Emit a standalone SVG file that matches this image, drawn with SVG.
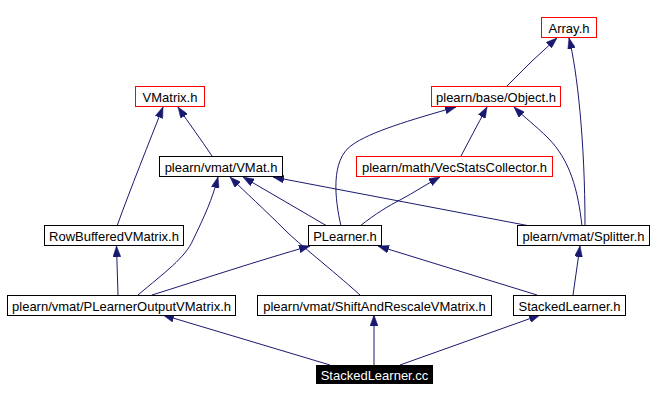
<svg xmlns="http://www.w3.org/2000/svg" width="660" height="401" viewBox="0 0 660 401">
<defs>
<marker id="ah" markerUnits="userSpaceOnUse" markerWidth="11" markerHeight="8" refX="11" refY="4" orient="auto">
<path d="M0,0 L11,4 L0,8 z" fill="#191970" stroke="#191970" stroke-width="0.5"/>
</marker>
<style>
.n rect{fill:#fff;stroke:#000;stroke-width:1}
.n.r rect{stroke:#ff0000}
.n text{font-family:"Liberation Sans",Arial,sans-serif;font-size:13px;fill:#000;text-anchor:middle}
.n.f rect{fill:#000;stroke:#000}
.n.f text{fill:#fff}
#edges path{fill:none;stroke:#191970;stroke-width:1;marker-end:url(#ah)}
</style>
</defs>
<rect width="660" height="401" fill="#fff"/>
<g id="edges">
<path d="M507,86 Q530,62 557,38"/>
<path d="M585,226 C585,140 577,70 569,38"/>
<path d="M212,156 C200,138 190,125 178,107"/>
<path d="M117,226 C130,190 150,140 163,107"/>
<path d="M341,226 C335,200 330,160 352,145 C370,132 410,120 456,107"/>
<path d="M461,156 Q472,135 487,107"/>
<path d="M582,226 C578,190 570,160 548,138 C535,125 525,118 514,107"/>
<path d="M360,226 C375,214 390,205 400,200 C415,192 425,185 440,177"/>
<path d="M327,226 L243,177"/>
<path d="M530,226 L273,177"/>
<path d="M138,295 C165,272 185,258 193,240 C205,215 212,200 218,177"/>
<path d="M360,295 C330,268 300,245 285,230 C265,210 245,192 230,177"/>
<path d="M118,295 L116.5,246"/>
<path d="M152,295 C200,280 260,260 310,246"/>
<path d="M537,295 L378,246"/>
<path d="M573,295 L580,246"/>
<path d="M330,365 L163,315"/>
<path d="M374,365 L374,315"/>
<path d="M400,365 L540,315"/>
</g>
<g id="array" class="n r"><rect x="541.5" y="17.5" width="55" height="20"/><text x="569" y="33">Array.h</text></g>
<g id="vmatrix" class="n r"><rect x="135.5" y="86.5" width="69" height="20"/><text x="170" y="102">VMatrix.h</text></g>
<g id="object" class="n r"><rect x="431.5" y="86.5" width="129" height="20"/><text x="496" y="102">plearn/base/Object.h</text></g>
<g id="vmat" class="n"><rect x="159.5" y="156.5" width="123" height="20"/><text x="221" y="172">plearn/vmat/VMat.h</text></g>
<g id="vecstats" class="n r"><rect x="356.5" y="156.5" width="196" height="20"/><text x="454.5" y="172">plearn/math/VecStatsCollector.h</text></g>
<g id="rowbuffered" class="n"><rect x="44.5" y="225.5" width="139" height="20"/><text x="114" y="241">RowBufferedVMatrix.h</text></g>
<g id="plearner" class="n"><rect x="308.5" y="225.5" width="73" height="20"/><text x="345" y="241">PLearner.h</text></g>
<g id="splitter" class="n"><rect x="517.5" y="225.5" width="132" height="20"/><text x="583.5" y="241">plearn/vmat/Splitter.h</text></g>
<g id="ploutvm" class="n"><rect x="7.5" y="295.5" width="228" height="20"/><text x="121.5" y="311">plearn/vmat/PLearnerOutputVMatrix.h</text></g>
<g id="shiftrescale" class="n"><rect x="257.5" y="295.5" width="234" height="20"/><text x="374.5" y="311">plearn/vmat/ShiftAndRescaleVMatrix.h</text></g>
<g id="stackedh" class="n"><rect x="513.5" y="295.5" width="112" height="20"/><text x="569.5" y="311">StackedLearner.h</text></g>
<g id="stackedcc" class="n f"><rect x="316.5" y="365.5" width="116" height="18"/><text x="374.5" y="380">StackedLearner.cc</text></g>
</svg>
